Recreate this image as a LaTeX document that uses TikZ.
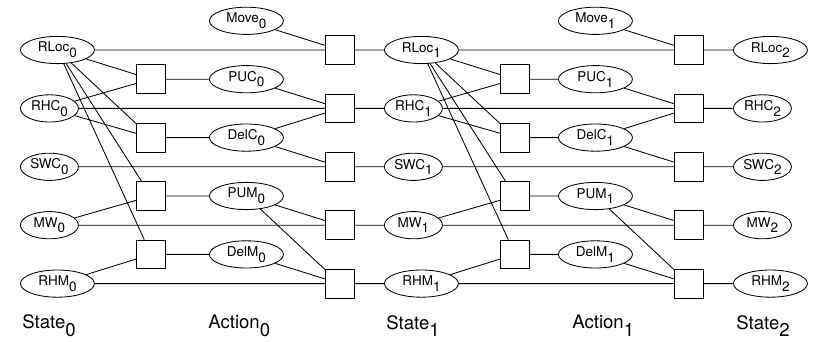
\documentclass[tikz,border=0pt]{standalone}
\usepackage{fontspec}
\setmainfont{TeX Gyre Heros}
\usetikzlibrary{shapes.geometric}

\newcommand{\lo}[1]{\raisebox{-0.42em}{#1}}

\tikzset{
  var/.style={ellipse,draw,inner sep=0pt,minimum height=0.68cm,minimum width=1.85cm,
    anchor=west,font=\fontsize{9.6}{11}\selectfont},
  varn/.style={var,minimum width=1.45cm},
  fac/.style={rectangle,draw,fill=white,minimum size=0.72cm,inner sep=0pt},
  slicelabel/.style={anchor=west,inner sep=0pt,font=\fontsize{13.2}{15}\selectfont}
}

\begin{document}
\begin{tikzpicture}[line width=0.6pt]
    \useasboundingbox (0,0) rectangle (20.375,-8.55);
    % state variables
    \foreach \t/\x in {0/0.5,1/9.6,2/18.325} {
        \node[var]  (rloc\t) at (\x,-1.25) {RLoc\lo{\t}};
        \node[varn] (rhc\t)  at (\x,-2.71) {RHC\lo{\t}};
        \node[varn] (swc\t)  at (\x,-4.17) {SWC\lo{\t}};
        \node[varn] (mw\t)   at (\x,-5.63) {MW\lo{\t}};
        \node[var]  (rhm\t)  at (\x,-7.09) {RHM\lo{\t}};
    }
    % action variables
    \foreach \t/\x in {0/5.225,1/13.95} {
        \node[var] (move\t) at (\x,-0.52) {Move\lo{\t}};
        \node[var] (puc\t)  at (\x,-1.98) {PUC\lo{\t}};
        \node[var] (delc\t) at (\x,-3.44) {DelC\lo{\t}};
        \node[var] (pum\t)  at (\x,-4.90) {PUM\lo{\t}};
        \node[var] (delm\t) at (\x,-6.36) {DelM\lo{\t}};
    }
    % factors
    \foreach \t/\xa/\xb in {0/3.775/8.5,1/12.875/17.225} {
        \node[fac] (fpuc\t)  at (\xa,-1.98) {};
        \node[fac] (fdelc\t) at (\xa,-3.44) {};
        \node[fac] (fpum\t)  at (\xa,-4.90) {};
        \node[fac] (fdelm\t) at (\xa,-6.36) {};
        \node[fac] (frloc\t) at (\xb,-1.25) {};
        \node[fac] (frhc\t)  at (\xb,-2.71) {};
        \node[fac] (fswc\t)  at (\xb,-4.17) {};
        \node[fac] (fmw\t)   at (\xb,-5.63) {};
        \node[fac] (frhm\t)  at (\xb,-7.09) {};
    }
    % edges
    \foreach \t in {0,1} {
        \pgfmathtruncatemacro{\n}{\t+1}
        \draw (rloc\t)--(fpuc\t)  (rhc\t)--(fpuc\t)  (fpuc\t)--(puc\t);
        \draw (rloc\t)--(fdelc\t) (rhc\t)--(fdelc\t) (fdelc\t)--(delc\t);
        \draw (rloc\t)--(fpum\t)  (mw\t)--(fpum\t)   (fpum\t)--(pum\t);
        \draw (rloc\t)--(fdelm\t) (rhm\t)--(fdelm\t) (fdelm\t)--(delm\t);
        \draw (rloc\t)--(frloc\t) (move\t)--(frloc\t) (frloc\t)--(rloc\n);
        \draw (rhc\t)--(frhc\t) (puc\t)--(frhc\t) (delc\t)--(frhc\t) (frhc\t)--(rhc\n);
        \draw (swc\t)--(fswc\t) (delc\t)--(fswc\t) (fswc\t)--(swc\n);
        \draw (mw\t)--(fmw\t) (pum\t)--(fmw\t) (fmw\t)--(mw\n);
        \draw (rhm\t)--(frhm\t) (pum\t)--(frhm\t) (delm\t)--(frhm\t) (frhm\t)--(rhm\n);
    }
    % slice labels
    \foreach \name/\txt/\x in {ls0/State\lo{0}/0.55,la0/Action\lo{0}/5.2,ls1/State\lo{1}/9.65,
                               la1/Action\lo{1}/14.3,ls2/State\lo{2}/18.4}
        \node[slicelabel] (\name) at (\x,-8.15) {\txt};
\end{tikzpicture}
\end{document}
